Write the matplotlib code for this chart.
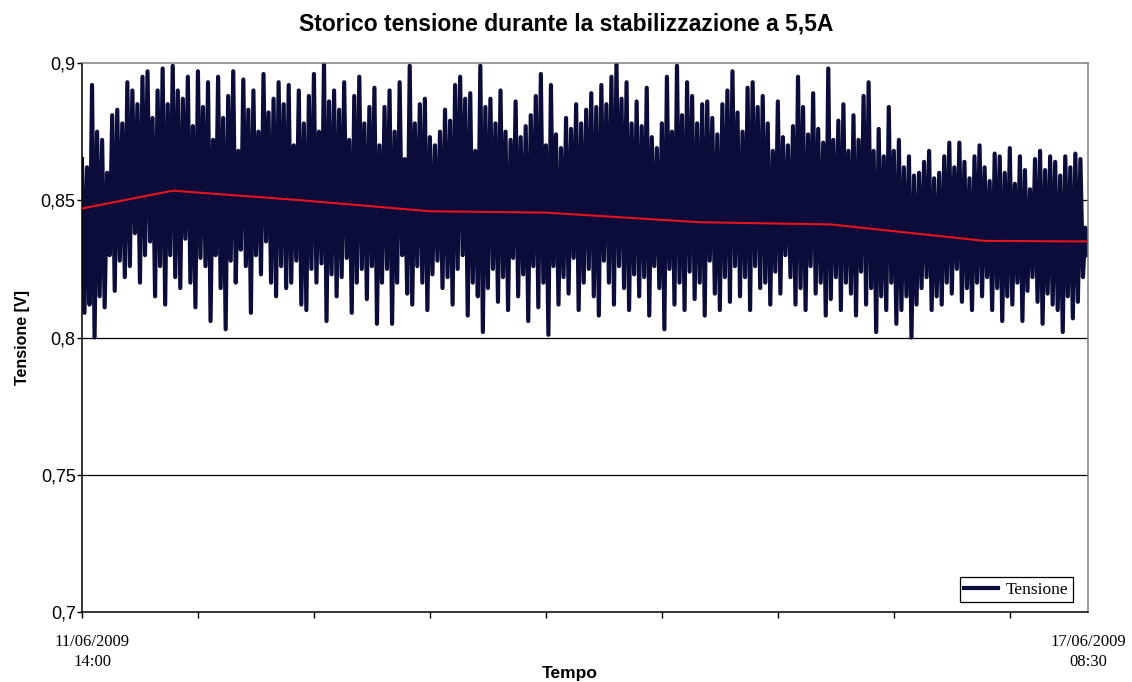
import numpy as np
import matplotlib
matplotlib.use("Agg")
import matplotlib.pyplot as plt
from matplotlib.ticker import FuncFormatter

# picchi e minimi (da sinistra a destra), poi alternati
picchi = [
    0.865, 0.862, 0.892, 0.875, 0.872, 0.860, 0.881, 0.883, 0.878, 0.893,
    0.890, 0.885, 0.895, 0.897, 0.880, 0.890, 0.898, 0.885, 0.899, 0.890,
    0.887, 0.895, 0.877, 0.897, 0.884, 0.893, 0.872, 0.895, 0.880, 0.888,
    0.897, 0.868, 0.894, 0.883, 0.890, 0.875, 0.896, 0.882, 0.887, 0.893,
    0.885, 0.892, 0.870, 0.890, 0.878, 0.888, 0.896, 0.875, 0.900, 0.886,
    0.890, 0.883, 0.893, 0.872, 0.888, 0.895, 0.878, 0.884, 0.891, 0.870,
    0.884, 0.890, 0.875, 0.893, 0.865, 0.899, 0.878, 0.885, 0.887, 0.873,
    0.870, 0.875, 0.883, 0.879, 0.892, 0.895, 0.887, 0.889, 0.868, 0.899,
    0.884, 0.887, 0.878, 0.890, 0.875, 0.872, 0.886, 0.873, 0.877, 0.881,
    0.888, 0.896, 0.870, 0.892, 0.874, 0.869, 0.880, 0.876, 0.885, 0.878,
    0.883, 0.889, 0.884, 0.892, 0.885, 0.895, 0.900, 0.887, 0.893, 0.878,
    0.886, 0.877, 0.891, 0.873, 0.869, 0.878, 0.895, 0.875, 0.899, 0.881,
    0.893, 0.888, 0.878, 0.885, 0.886, 0.880, 0.874, 0.885, 0.890, 0.897,
    0.882, 0.875, 0.891, 0.893, 0.884, 0.888, 0.878, 0.868, 0.886, 0.873,
    0.870, 0.877, 0.895, 0.884, 0.874, 0.889, 0.876, 0.871, 0.898, 0.872,
    0.879, 0.885, 0.868, 0.881, 0.872, 0.888, 0.893, 0.868, 0.876, 0.866,
    0.884, 0.868, 0.872, 0.862, 0.866, 0.859, 0.860, 0.864, 0.868, 0.858,
    0.860, 0.866, 0.871, 0.862, 0.871, 0.864, 0.858, 0.866, 0.870, 0.862,
    0.857, 0.867, 0.866, 0.860, 0.869, 0.856, 0.866, 0.861, 0.854, 0.865,
    0.868, 0.861, 0.866, 0.864, 0.859, 0.866, 0.862, 0.867, 0.865, 0.840,
]
minimi = [
    0.809, 0.812, 0.800, 0.815, 0.811, 0.830, 0.817, 0.828, 0.822, 0.826,
    0.838, 0.820, 0.830, 0.835, 0.815, 0.826, 0.812, 0.830, 0.822, 0.818,
    0.836, 0.820, 0.811, 0.829, 0.826, 0.806, 0.830, 0.818, 0.803, 0.828,
    0.820, 0.832, 0.826, 0.809, 0.830, 0.823, 0.835, 0.820, 0.815, 0.826,
    0.818, 0.820, 0.828, 0.812, 0.810, 0.825, 0.820, 0.827, 0.806, 0.823,
    0.815, 0.822, 0.829, 0.809, 0.820, 0.825, 0.814, 0.826, 0.805, 0.820,
    0.825, 0.805, 0.820, 0.830, 0.816, 0.812, 0.826, 0.820, 0.810, 0.823,
    0.828, 0.818, 0.822, 0.812, 0.825, 0.830, 0.808, 0.820, 0.815, 0.802,
    0.818, 0.825, 0.813, 0.822, 0.810, 0.829, 0.815, 0.823, 0.806, 0.826,
    0.811, 0.820, 0.801, 0.826, 0.812, 0.822, 0.816, 0.829, 0.810, 0.820,
    0.825, 0.815, 0.808, 0.828, 0.820, 0.812, 0.826, 0.818, 0.810, 0.823,
    0.815, 0.822, 0.808, 0.826, 0.818, 0.803, 0.825, 0.812, 0.820, 0.810,
    0.824, 0.814, 0.820, 0.808, 0.828, 0.816, 0.810, 0.822, 0.813, 0.826,
    0.815, 0.822, 0.810, 0.826, 0.818, 0.820, 0.812, 0.824, 0.816, 0.830,
    0.822, 0.812, 0.818, 0.810, 0.826, 0.816, 0.820, 0.808, 0.814, 0.822,
    0.810, 0.820, 0.816, 0.808, 0.824, 0.812, 0.818, 0.802, 0.815, 0.810,
    0.820, 0.805, 0.810, 0.815, 0.800, 0.812, 0.818, 0.822, 0.810, 0.815,
    0.812, 0.820, 0.816, 0.825, 0.813, 0.818, 0.810, 0.820, 0.815, 0.822,
    0.810, 0.818, 0.806, 0.815, 0.812, 0.820, 0.806, 0.817, 0.822, 0.813,
    0.805, 0.816, 0.812, 0.810, 0.802, 0.815, 0.807, 0.813, 0.822, 0.830,
]

# linea di tendenza (indice campione, tensione)
trend_idx = [0, 36, 87, 138, 184, 245, 297, 358, 399]
trend_val = [0.847, 0.8535, 0.850, 0.846, 0.8455, 0.842, 0.8412, 0.8352, 0.835]

yticks = [0.7, 0.75, 0.8, 0.85, 0.9]
data_inizio = "11/06/2009\n14:00"
data_fine = "17/06/2009\n08:30"

tensione = np.empty(len(picchi) * 2)
tensione[0::2] = picchi
tensione[1::2] = minimi
idx = np.arange(len(tensione))

fig = plt.figure(figsize=(11.32, 6.82), dpi=100)
ax = fig.add_axes([0.0724, 0.1026, 0.8887, 0.805])

navy = "#0b0c3a"
ax.plot(idx, tensione, color=navy, lw=3.0, solid_joinstyle="round", label="Tensione", zorder=2)
ax.plot(trend_idx, trend_val, color="#e8141b", lw=1.5, zorder=3)

ax.set_xlim(0, len(tensione) - 1)
ax.set_ylim(0.7, 0.9)
ax.set_yticks(yticks)
ax.yaxis.set_major_formatter(FuncFormatter(lambda v, p: f"{v:g}".replace(".", ",")))
for v in yticks[1:-1]:
    ax.axhline(v, color="black", lw=0.9, zorder=1)

# tacche sull'asse x, etichette solo agli estremi
ax.set_xticks(np.arange(0, len(tensione), 46))
ax.set_xticklabels([])
ax.tick_params(axis="x", length=4.5, width=1, direction="out")
ax.tick_params(axis="y", length=3.5, width=1, direction="out", labelsize=13, pad=1)
for lbl in ax.get_yticklabels():
    lbl.set_fontfamily("Liberation Sans")

ax.text(4, -0.04, data_inizio, transform=ax.get_xaxis_transform(), ha="center", va="top",
        fontsize=12, family="Liberation Serif", linespacing=1.35)
ax.text(len(tensione) - 1, -0.04, data_fine, transform=ax.get_xaxis_transform(), ha="center", va="top",
        fontsize=12, family="Liberation Serif", linespacing=1.35)

for s in ["left", "bottom"]:
    ax.spines[s].set_color("black")
    ax.spines[s].set_linewidth(1.1)
for s in ["top", "right"]:
    ax.spines[s].set_color("#808080")
    ax.spines[s].set_linewidth(1.1)

ax.set_xlabel("Tempo", fontsize=12.5, fontweight="bold", family="Liberation Sans")
ax.xaxis.set_label_coords(0.485, -0.098)
ax.set_ylabel("Tensione [V]", fontsize=11.5, fontweight="bold", family="Liberation Sans", labelpad=8)
fig.suptitle("Storico tensione durante la stabilizzazione a 5,5A", y=0.982, fontsize=16.5,
             fontweight="bold", family="Liberation Sans")

leg = ax.legend(loc="lower right", bbox_to_anchor=(0.985, 0.018), borderaxespad=0, fancybox=False,
                framealpha=1, edgecolor="black", borderpad=0.25, handlelength=1.95, handletextpad=0.45,
                prop={"family": "Liberation Serif", "size": 12.5})
leg.get_frame().set_linewidth(0.9)
leg.get_lines()[0].set_linewidth(3)

fig.savefig("out.png", dpi=100)
